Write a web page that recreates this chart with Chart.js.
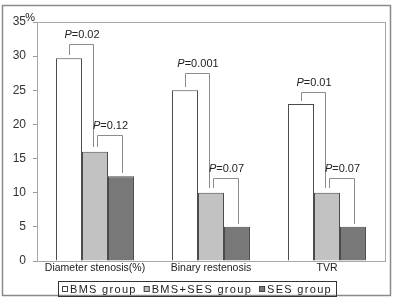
<!DOCTYPE html>
<html>
<head>
<meta charset="utf-8">
<script src="https://cdn.jsdelivr.net/npm/chart.js"></script>
<style>
  html, body { margin: 0; padding: 0; background: #fff; }
  canvas { display: block; }
</style>
</head>
<body>
<canvas id="myChart" width="393" height="301"></canvas>
<script>
// categories and values
const categories = ["Diameter stenosis(%)", "Binary restenosis", "TVR"];
const groupNames = ["BMS group", "BMS+SES group", "SES group"];
const bmsValues = [29.7, 25, 23];
const bmsSesValues = [16, 10, 10];
const sesValues = [12.4, 5, 5];
const yTicks = [0, 5, 10, 15, 20, 25, 30, 35];

// p-value brackets (BMS vs BMS+SES, BMS+SES vs SES)
const pFirst = ["0.02", "0.001", "0.01"];
const pSecond = ["0.12", "0.07", "0.07"];
const bracketFirst = [31.8, 27.5, 24.7];
const bracketSecond = [18.4, 12.2, 12.1];

const fillColors = ["#ffffff", "#c2c2c2", "#787878"];
const fontName = "'Liberation Sans', Arial, sans-serif";

function px(v) {
  return Math.round(v) + 0.5;
}

// white page + outer frame + plot frame
const framePlugin = {
  id: "frame",
  beforeDraw(chart) {
    const ctx = chart.ctx;
    ctx.save();
    ctx.fillStyle = "#fff";
    ctx.fillRect(0, 0, chart.width, chart.height);
    ctx.strokeStyle = "#8a8a8a";
    ctx.lineWidth = 1.5;
    ctx.strokeRect(2.5, 5.5, 388, 290);
    ctx.restore();
  },
  beforeDatasetsDraw(chart) {
    const a = chart.chartArea;
    const ctx = chart.ctx;
    ctx.save();
    ctx.strokeStyle = "#a8a8a8";
    ctx.lineWidth = 1;
    ctx.strokeRect(px(a.left), px(a.top), Math.round(a.right - a.left), Math.round(a.bottom - a.top));
    // % unit above the y axis
    ctx.fillStyle = "#222";
    ctx.font = "11px " + fontName;
    ctx.textAlign = "right";
    ctx.textBaseline = "middle";
    ctx.fillText("%", a.left - 2, a.top - 4);
    ctx.restore();
  }
};

function drawP(ctx, cx, baseY, value) {
  ctx.font = "italic 11px " + fontName;
  const wP = ctx.measureText("P").width;
  ctx.font = "11px " + fontName;
  const rest = "=" + value;
  const wR = ctx.measureText(rest).width;
  const x0 = cx - (wP + wR) / 2;
  ctx.textAlign = "left";
  ctx.textBaseline = "alphabetic";
  ctx.font = "italic 11px " + fontName;
  ctx.fillText("P", x0, baseY);
  ctx.font = "11px " + fontName;
  ctx.fillText(rest, x0 + wP, baseY);
}

function drawBracket(ctx, xa, ya, xb, yb, yTop, label) {
  ctx.beginPath();
  ctx.moveTo(px(xa), Math.round(ya));
  ctx.lineTo(px(xa), px(yTop));
  ctx.lineTo(px(xb), px(yTop));
  ctx.lineTo(px(xb), Math.round(yb));
  ctx.stroke();
  drawP(ctx, (xa + xb) / 2 + 1, yTop - 6, label);
}

const bracketPlugin = {
  id: "brackets",
  afterDatasetsDraw(chart) {
    const ctx = chart.ctx;
    const y = chart.scales.y;
    const m0 = chart.getDatasetMeta(0);
    const m1 = chart.getDatasetMeta(1);
    const m2 = chart.getDatasetMeta(2);
    ctx.save();
    ctx.strokeStyle = "#8c8c8c";
    ctx.lineWidth = 1;
    ctx.fillStyle = "#222";
    for (let i = 0; i < categories.length; i++) {
      const xa = m0.data[i].x;
      const xb = m1.data[i].x;
      const xc = m2.data[i].x;
      drawBracket(ctx,
        xa, y.getPixelForValue(bmsValues[i]) - 3,
        xb - 2, y.getPixelForValue(bmsSesValues[i]) - 5,
        y.getPixelForValue(bracketFirst[i]), pFirst[i]);
      drawBracket(ctx,
        xb + 2, y.getPixelForValue(bmsSesValues[i]) - 5,
        xc + 1, y.getPixelForValue(sesValues[i]) - 3,
        y.getPixelForValue(bracketSecond[i]), pSecond[i]);
    }
    ctx.restore();
  }
};

// boxed legend at the bottom, with wide letter spacing
const legendBoxPlugin = {
  id: "legendBox",
  afterDraw(chart) {
    const ctx = chart.ctx;
    ctx.save();
    ctx.strokeStyle = "#333";
    ctx.lineWidth = 1;
    ctx.strokeRect(58.5, 281.5, 278, 15);
    ctx.font = "11px " + fontName;
    if ("letterSpacing" in ctx) ctx.letterSpacing = "1.3px";
    ctx.textBaseline = "middle";
    ctx.textAlign = "left";
    let x = 62;
    const yMid = 289;
    chart.data.datasets.forEach(function (ds) {
      ctx.fillStyle = ds.backgroundColor;
      ctx.fillRect(x, yMid - 3, 6, 6);
      ctx.strokeStyle = "#444";
      ctx.strokeRect(x + 0.5, yMid - 2.5, 5, 5);
      ctx.fillStyle = "#222";
      ctx.fillText(ds.label, x + 8, yMid + 0.5);
      x += 8 + ctx.measureText(ds.label).width + 7;
    });
    ctx.restore();
  }
};

const datasets = [bmsValues, bmsSesValues, sesValues].map(function (vals, i) {
  return {
    label: groupNames[i],
    data: vals,
    backgroundColor: fillColors[i],
    borderColor: "#4a4a4a",
    borderWidth: 1,
    borderSkipped: "bottom",
    categoryPercentage: 0.672,
    barPercentage: 1
  };
});

new Chart("myChart", {
  type: "bar",
  data: {
    labels: categories,
    datasets: datasets
  },
  options: {
    responsive: false,
    animation: false,
    events: [],
    layout: { padding: { top: 22, right: 8, left: 0, bottom: 0 } },
    plugins: {
      legend: { display: false },
      tooltip: { enabled: false }
    },
    scales: {
      x: {
        grid: { display: false, drawTicks: false },
        border: { display: true, color: "#999" },
        ticks: {
          color: "#222",
          padding: 1,
          font: { family: fontName, size: 10.5 },
          maxRotation: 0
        },
        afterFit(scale) { scale.height = 40; }
      },
      y: {
        min: 0,
        max: 35,
        grid: { drawOnChartArea: false, tickLength: 4, color: "#999" },
        border: { display: true, color: "#999" },
        ticks: {
          color: "#333",
          padding: 7,
          font: { family: fontName, size: 12 }
        },
        afterBuildTicks(scale) {
          scale.ticks = yTicks.map(function (v) { return { value: v }; });
        },
        afterFit(scale) { scale.width = 37; }
      }
    }
  },
  plugins: [framePlugin, bracketPlugin, legendBoxPlugin]
});
</script>
</body>
</html>
